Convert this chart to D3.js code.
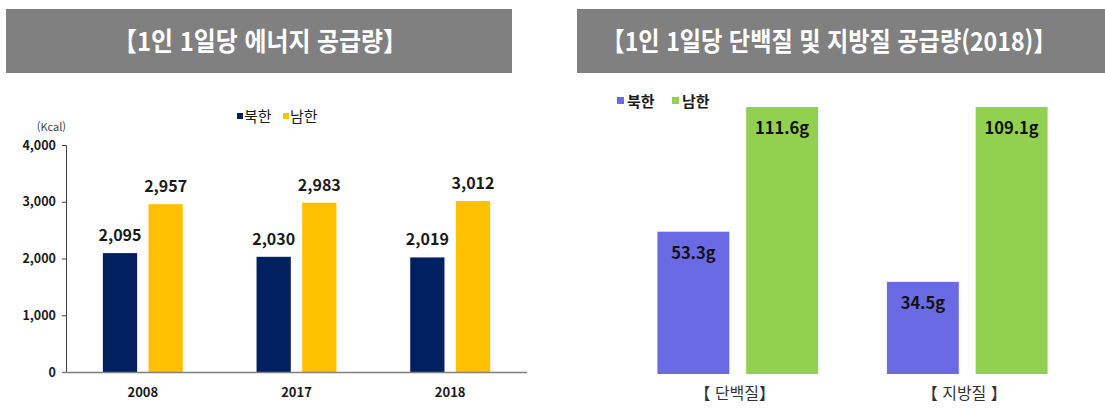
<!DOCTYPE html>
<html lang="ko">
<head>
  <meta charset="UTF-8">
  <title>1인 1일당 공급량</title>
  <style>
    body { margin: 0; background: #fff; font-family: "Noto Sans CJK KR", "Noto Sans", sans-serif; }
    svg text { font-family: "Noto Sans CJK KR", "Noto Sans", sans-serif; }
    .title { fill: #fff; font-weight: 700; font-size: 26px; }
    .tick text { font-size: 12.5px; font-weight: 700; fill: #1a1a1a; }
  </style>
</head>
<body>
  <svg id="chart" width="1105" height="408"></svg>

  <script src="https://d3js.org/d3.v7.min.js"></script>
  <script>
    // left chart: energy supply (kcal)
    const years = ["2008", "2017", "2018"];
    const energyNorth = [2095, 2030, 2019];
    const energySouth = [2957, 2983, 3012];
    const energyTicks = [0, 1000, 2000, 3000, 4000];

    // right chart: protein / fat supply 2018 (g)
    const nutrients = ["【 단백질】", "【 지방질 】"];
    const nutrientNorth = [53.3, 34.5];
    const nutrientSouth = [111.6, 109.1];

    const seriesNames = ["북한", "남한"];
    const leftColors = ["#002060", "#FFC000"];
    const rightColors = ["#6A6AE5", "#92D050"];

    const svg = d3.select("#chart");

    // Header boxes - title squeezed horizontally to look like the narrow headline font
    function header(x, w, text, cx, targetW) {
      svg.append("rect")
        .attr("x", x).attr("y", 9)
        .attr("width", w).attr("height", 64)
        .attr("fill", "#808080");
      const t = svg.append("text")
        .attr("class", "title")
        .attr("x", 0).attr("y", 0)
        .attr("text-anchor", "middle")
        .text(text);
      const k = Math.min(1, targetW / t.node().getComputedTextLength());
      t.attr("transform", `translate(${cx},51) scale(${k},1)`);
    }
    header(6, 506, "【1인 1일당 에너지 공급량】", 260, 294);
    header(577, 528, "【1인 1일당 단백질 및 지방질 공급량(2018)】", 829, 455);

    // ---------- Left chart ----------
    const leftData = years.map((y, i) => ({ key: y, values: [energyNorth[i], energySouth[i]] }));

    const x0 = d3.scaleBand()
      .domain(years)
      .range([66, 527])
      .paddingInner(0.48)
      .paddingOuter(0.24);

    const x1 = d3.scaleBand()
      .domain([0, 1])
      .range([0, x0.bandwidth()])
      .paddingInner(0.25);

    const y = d3.scaleLinear()
      .domain([0, 4000])
      .range([372, 145]);

    const yAxis = svg.append("g")
      .attr("transform", "translate(66,0)")
      .call(d3.axisLeft(y).tickValues(energyTicks).tickFormat(d3.format(",")).tickSize(4).tickPadding(6));
    yAxis.selectAll("line, path").attr("stroke", "#404040");
    yAxis.select(".domain").attr("d", "M-4,145.5H0.5V372");

    const lg = svg.append("g")
      .selectAll("g")
      .data(leftData)
      .join("g")
      .attr("transform", d => `translate(${x0(d.key)},0)`);

    lg.selectAll("rect")
      .data(d => d.values)
      .join("rect")
      .attr("x", (d, i) => x1(i))
      .attr("y", d => y(d))
      .attr("width", x1.bandwidth())
      .attr("height", d => y(0) - y(d))
      .attr("fill", (d, i) => leftColors[i]);

    lg.selectAll("text")
      .data(d => d.values)
      .join("text")
      .attr("x", (d, i) => x1(i) + x1.bandwidth() / 2)
      .attr("y", d => y(d) - 12)
      .attr("text-anchor", "middle")
      .attr("font-size", 16)
      .attr("font-weight", 700)
      .attr("fill", "#1a1a1a")
      .text(d => d3.format(",")(d));

    // x axis line
    svg.append("line")
      .attr("x1", 62).attr("x2", 527)
      .attr("y1", y(0) + 0.5).attr("y2", y(0) + 0.5)
      .attr("stroke", "#808080")
      .attr("stroke-width", 1.5);

    svg.append("g")
      .selectAll("text")
      .data(years)
      .join("text")
      .attr("x", d => x0(d) + x0.bandwidth() / 2)
      .attr("y", 397)
      .attr("text-anchor", "middle")
      .attr("font-size", 13)
      .attr("font-weight", 700)
      .attr("fill", "#1a1a1a")
      .text(d => d);

    svg.append("text")
      .attr("x", 66).attr("y", 131)
      .attr("text-anchor", "end")
      .attr("font-size", 11)
      .attr("fill", "#404040")
      .text("(Kcal)");

    // left legend
    const leftLegendX = [237, 283];
    seriesNames.forEach((s, i) => {
      svg.append("rect")
        .attr("x", leftLegendX[i]).attr("y", 113)
        .attr("width", 6).attr("height", 6)
        .attr("fill", leftColors[i]);
      svg.append("text")
        .attr("x", leftLegendX[i] + 7).attr("y", 122)
        .attr("font-size", 15)
        .attr("fill", "#1a1a1a")
        .text(s);
    });

    // ---------- Right chart ----------
    const rightData = nutrients.map((n, i) => ({ key: n, values: [nutrientNorth[i], nutrientSouth[i]] }));

    const rx0 = d3.scaleBand()
      .domain(nutrients)
      .range([623, 1082])
      .paddingInner(0.3)
      .paddingOuter(0.15);

    const rx1 = d3.scaleBand()
      .domain([0, 1])
      .range([0, rx0.bandwidth()])
      .paddingInner(0.19);

    // axis tops out at 100 g, so the South bars are cut off at the top
    const ry = d3.scaleLinear()
      .domain([0, 100])
      .range([374, 107])
      .clamp(true);

    const rg = svg.append("g")
      .selectAll("g")
      .data(rightData)
      .join("g")
      .attr("transform", d => `translate(${rx0(d.key)},0)`);

    rg.selectAll("rect")
      .data(d => d.values)
      .join("rect")
      .attr("x", (d, i) => rx1(i))
      .attr("y", d => ry(d))
      .attr("width", rx1.bandwidth())
      .attr("height", d => ry(0) - ry(d))
      .attr("fill", (d, i) => rightColors[i]);

    rg.selectAll("text")
      .data(d => d.values)
      .join("text")
      .attr("x", (d, i) => rx1(i) + rx1.bandwidth() / 2)
      .attr("y", d => ry(d) + 27)
      .attr("text-anchor", "middle")
      .attr("font-size", 16.5)
      .attr("font-weight", 700)
      .attr("fill", "#111")
      .text(d => d3.format(".1f")(d) + "g");

    svg.append("g")
      .selectAll("text")
      .data(nutrients)
      .join("text")
      .attr("x", d => rx0(d) + rx0.bandwidth() / 2 - 3)
      .attr("y", 399)
      .attr("text-anchor", "middle")
      .attr("font-size", 16)
      .attr("fill", "#333")
      .text(d => d);

    // right legend
    const rightLegendX = [617, 672];
    seriesNames.forEach((s, i) => {
      svg.append("rect")
        .attr("x", rightLegendX[i]).attr("y", 97)
        .attr("width", 7).attr("height", 7)
        .attr("fill", rightColors[i]);
      svg.append("text")
        .attr("x", rightLegendX[i] + 10).attr("y", 107)
        .attr("font-size", 15)
        .attr("font-weight", 700)
        .attr("fill", "#1a1a1a")
        .text(s);
    });
  </script>
</body>
</html>
